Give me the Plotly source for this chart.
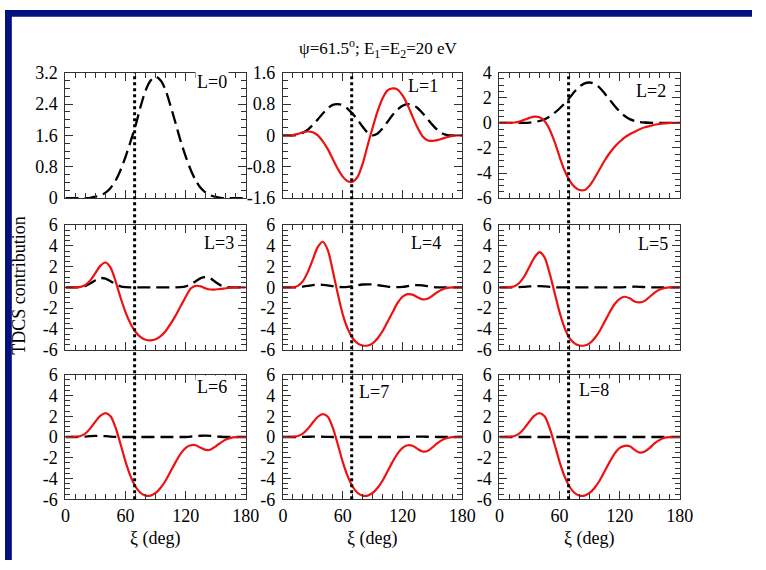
import plotly.graph_objects as go

W, H = 766, 570

xi = [0, 5, 10, 15, 20, 25, 30, 35, 40, 45, 50, 55, 60, 65, 70, 75, 80, 85, 90,
      95, 100, 105, 110, 115, 120, 125, 130, 135, 140, 145, 150, 155, 160, 165, 170, 175, 180]

xi_marker = 69  # vertical dotted line (deg)

# dashed (black) curves
dash_L0 = [0, 0, 0, 0, 0, 0.01, 0.04, 0.07, 0.14, 0.26, 0.45, 0.72, 1.06, 1.45, 1.86, 2.34, 2.75, 3.0, 3.1,
           3.0, 2.75, 2.34, 1.9, 1.45, 1.06, 0.72, 0.45, 0.26, 0.14, 0.07, 0.03, 0.01, 0, 0, 0, 0, 0]
dash_L1 = [0, 0, 0, 0.02, 0.07, 0.15, 0.27, 0.41, 0.56, 0.69, 0.78, 0.8, 0.77, 0.68, 0.55, 0.40, 0.22, 0.07, 0.0,
           0.05, 0.18, 0.35, 0.52, 0.66, 0.76, 0.8, 0.78, 0.7, 0.57, 0.42, 0.27, 0.14, 0.05, 0.01, 0, 0, 0]
dash_L2 = [0, 0, 0, 0, 0, 0, 0.02, 0.07, 0.15, 0.28, 0.5, 0.8, 1.15, 1.55, 2.0, 2.5, 2.9, 3.15, 3.22,
           3.1, 2.8, 2.35, 1.85, 1.35, 0.9, 0.55, 0.3, 0.15, 0.07, 0.03, 0.01, 0, 0, 0, 0, 0, 0]
dash_L3 = [0, 0, 0, 0.03, 0.15, 0.4, 0.7, 0.9, 0.85, 0.6, 0.3, 0.1, 0.02, 0, 0, 0, 0, 0, 0,
           0, 0, 0, 0, 0.02, 0.1, 0.3, 0.6, 0.9, 1.0, 0.85, 0.5, 0.2, 0.05, 0, 0, 0, 0]
dash_L4 = [0, 0, 0, 0.02, 0.08, 0.15, 0.22, 0.25, 0.25, 0.2, 0.12, 0.05, 0.03, 0.05, 0.12, 0.22, 0.28, 0.3, 0.28,
           0.22, 0.15, 0.08, 0.03, 0.02, 0.05, 0.12, 0.2, 0.22, 0.2, 0.12, 0.05, 0.01, 0, 0, 0, 0, 0]
dash_L5 = [0, 0, 0, 0.01, 0.03, 0.06, 0.1, 0.12, 0.12, 0.1, 0.06, 0.02, 0, 0, 0, 0, 0, 0, 0,
           0, 0, 0, 0, 0, 0, 0.02, 0.05, 0.07, 0.06, 0.03, 0, 0, 0, 0, 0, 0, 0]
dash_L6 = [0, 0, 0, 0.01, 0.04, 0.08, 0.1, 0.1, 0.08, 0.04, 0.01, 0, 0, 0, 0, 0, 0, 0, 0,
           0, 0, 0, 0, 0, 0, 0.03, 0.08, 0.12, 0.13, 0.1, 0.05, 0.02, 0, 0, 0, 0, 0]
dash_L7 = [0, 0, 0, 0, 0.01, 0.02, 0.03, 0.03, 0.02, 0.01, 0, 0, 0, 0, 0, 0, 0, 0, 0,
           0, 0, 0, 0, 0, 0, 0.01, 0.02, 0.03, 0.03, 0.02, 0.01, 0, 0, 0, 0, 0, 0]
dash_L8 = [0] * 37

# solid (red) curves
red_L1 = [0, 0, 0.01, 0.04, 0.08, 0.1, 0.08, 0.0, -0.15, -0.35, -0.6, -0.85, -1.05, -1.17, -1.18, -1.05, -0.72, -0.25, 0.2,
          0.62, 0.95, 1.15, 1.2, 1.17, 1.02, 0.78, 0.48, 0.2, -0.02, -0.12, -0.14, -0.12, -0.08, -0.04, -0.01, 0, 0]
red_L2 = [0, 0, 0, 0.03, 0.1, 0.25, 0.4, 0.5, 0.45, 0.15, -0.5, -1.5, -2.7, -3.8, -4.6, -5.1, -5.35, -5.35, -5.0,
          -4.4, -3.7, -3.0, -2.4, -1.9, -1.5, -1.15, -0.9, -0.7, -0.5, -0.35, -0.25, -0.15, -0.08, -0.04, -0.01, 0, 0]
red_L3 = [0, 0, 0, 0.05, 0.25, 0.7, 1.4, 2.1, 2.4, 1.9, 0.6, -1.0, -2.4, -3.5, -4.3, -4.8, -5.05, -5.1, -5.0,
          -4.7, -4.2, -3.5, -2.7, -1.8, -0.9, -0.1, 0.15, 0.1, -0.1, -0.2, -0.2, -0.15, -0.08, -0.03, 0, 0, 0]
red_L4 = [0, 0, 0.02, 0.15, 0.6, 1.5, 2.7, 3.9, 4.4, 3.6, 1.6, -0.6, -2.6, -4.0, -4.9, -5.4, -5.6, -5.6, -5.4,
          -4.9, -4.2, -3.3, -2.4, -1.5, -0.9, -0.65, -0.7, -0.95, -1.15, -1.1, -0.8, -0.45, -0.2, -0.05, 0, 0, 0]
red_L5 = [0, 0, 0.02, 0.12, 0.45, 1.1, 2.0, 2.9, 3.4, 2.9, 1.4, -0.5, -2.4, -3.9, -4.9, -5.4, -5.6, -5.6, -5.4,
          -4.9, -4.2, -3.3, -2.4, -1.6, -1.1, -0.9, -1.05, -1.35, -1.45, -1.3, -0.9, -0.5, -0.2, -0.06, 0, 0, 0]
red_L6 = [0, 0, 0.02, 0.1, 0.35, 0.85, 1.5, 2.05, 2.3, 2.0, 0.9, -0.7, -2.4, -3.8, -4.8, -5.4, -5.65, -5.65, -5.4,
          -4.9, -4.2, -3.3, -2.4, -1.6, -1.05, -0.8, -0.8, -1.05, -1.25, -1.2, -0.9, -0.55, -0.25, -0.08, -0.01, 0, 0]
red_L7 = [0, 0, 0.02, 0.1, 0.32, 0.8, 1.4, 1.95, 2.2, 1.95, 0.9, -0.7, -2.4, -3.8, -4.8, -5.4, -5.65, -5.65, -5.4,
          -4.9, -4.2, -3.3, -2.4, -1.6, -1.05, -0.8, -0.85, -1.15, -1.4, -1.35, -1.0, -0.6, -0.28, -0.1, -0.02, 0, 0]
red_L8 = [0, 0, 0.02, 0.1, 0.35, 0.85, 1.5, 2.05, 2.3, 2.0, 0.9, -0.7, -2.4, -3.8, -4.8, -5.4, -5.65, -5.65, -5.4,
          -4.9, -4.2, -3.3, -2.4, -1.6, -1.05, -0.85, -0.9, -1.25, -1.5, -1.4, -1.05, -0.6, -0.28, -0.08, -0.01, 0, 0]

panel_labels = ["L=0", "L=1", "L=2", "L=3", "L=4", "L=5", "L=6", "L=7", "L=8"]
dashed = [dash_L0, dash_L1, dash_L2, dash_L3, dash_L4, dash_L5, dash_L6, dash_L7, dash_L8]
solid = [None, red_L1, red_L2, red_L3, red_L4, red_L5, red_L6, red_L7, red_L8]

x_ticks = [0, 60, 120, 180]
x_minor_step = 10
y_ticks_L0 = [0, 0.8, 1.6, 2.4, 3.2]
y_ticks_L1 = [-1.6, -0.8, 0, 0.8, 1.6]
y_ticks_L2 = [-6, -4, -2, 0, 2, 4]
y_ticks_std = [-6, -4, -2, 0, 2, 4, 6]
y_ticks = [y_ticks_L0, y_ticks_L1, y_ticks_L2] + [y_ticks_std] * 6
y_minor = [0.2, 0.2, 0.5] + [0.5] * 6

title_text = "ψ=61.5<sup>o</sup>; E<sub>1</sub>=E<sub>2</sub>=20 eV"
y_title = "TDCS contribution"
x_title = "ξ (deg)"

# ---------------- layout geometry (pixels) ----------------
col_px = [(62, 247), (285, 469), (507, 692)]
row_px = [(65, 195), (223, 352), (378, 507)]
label_px = [(212, 75), (429, 79), (662, 84), (219, 241), (432, 241), (664, 243),
            (212, 391), (378, 396), (604, 394)]


def px(x):
    return x / W


def py(y):
    return 1 - y / H


def minor_vals(lo, hi, step):
    n = int(round((hi - lo) / step))
    return [round(lo + j * step, 6) for j in range(n + 1)]


FONT = "Liberation Serif, Times New Roman, Times, serif"
AXC = "#333333"

fig = go.Figure()
layout = dict(
    width=W, height=H, margin=dict(l=0, r=0, t=0, b=0),
    paper_bgcolor="white", plot_bgcolor="white", showlegend=False,
    font=dict(family=FONT, size=18, color="black"),
)

annotations = []
shapes = []

for i in range(9):
    r, c = divmod(i, 3)
    k = i + 1
    xa = "x" if k == 1 else f"x{k}"
    ya = "y" if k == 1 else f"y{k}"
    fig.add_trace(go.Scatter(x=xi, y=dashed[i], mode="lines", xaxis=xa, yaxis=ya,
                             line=dict(color="black", width=2.3, dash="13px,6px", shape="spline", smoothing=0.8)))
    if solid[i] is not None:
        fig.add_trace(go.Scatter(x=xi, y=solid[i], mode="lines", xaxis=xa, yaxis=ya,
                                 line=dict(color="#ee1111", width=2.2, shape="spline", smoothing=0.8)))
    common = dict(showline=True, linecolor=AXC, linewidth=1, mirror="allticks",
                  ticks="inside", ticklen=8, tickwidth=1, tickcolor=AXC,
                  showgrid=False, zeroline=False,
                  tickfont=dict(family=FONT, size=18, color="black"))
    xkey = "xaxis" if k == 1 else f"xaxis{k}"
    ykey = "yaxis" if k == 1 else f"yaxis{k}"
    layout[xkey] = dict(common, domain=[px(col_px[c][0]), px(col_px[c][1])],
                        anchor=ya, range=[0, 180], tickmode="array",
                        tickvals=x_ticks, ticktext=[str(v) for v in x_ticks],
                        showticklabels=(r == 2),
                        minor=dict(ticks="inside", ticklen=5, tickcolor=AXC, tickwidth=1, tickmode="array",
                                   tickvals=minor_vals(x_ticks[0], x_ticks[-1], x_minor_step), showgrid=False))
    yt = y_ticks[i]
    layout[ykey] = dict(common, domain=[py(row_px[r][1]), py(row_px[r][0])],
                        anchor=xa, range=[yt[0], yt[-1]], tickmode="array",
                        tickvals=yt, ticktext=["%g" % v for v in yt], ticklabelstandoff=3,
                        minor=dict(ticks="inside", ticklen=5, tickcolor=AXC, tickwidth=1, tickmode="array",
                                   tickvals=minor_vals(yt[0], yt[-1], y_minor[i]), showgrid=False))
    lx, ly = label_px[i]
    annotations.append(dict(text=panel_labels[i], x=px(lx), y=py(ly), xref="paper", yref="paper",
                            showarrow=False, font=dict(family=FONT, size=18, color="black"),
                            xanchor="center", yanchor="middle", bgcolor="white"))

# vertical dotted lines through each column
for c in range(3):
    xa = "x" if c == 0 else f"x{c + 1}"
    shapes.append(dict(type="line", xref=xa, yref="paper", x0=xi_marker, x1=xi_marker,
                       y0=py(row_px[2][1]), y1=py(row_px[0][0]),
                       line=dict(color="black", width=3, dash="dot")))
    annotations.append(dict(text=x_title, x=px((col_px[c][0] + col_px[c][1]) / 2), y=py(548),
                            xref="paper", yref="paper", showarrow=False,
                            font=dict(family=FONT, size=18, color="black"), xanchor="center", yanchor="middle"))

annotations.append(dict(text=title_text, x=px(383), y=py(40), xref="paper", yref="paper",
                        showarrow=False, font=dict(family=FONT, size=17, color="black"),
                        xanchor="center", yanchor="middle"))
annotations.append(dict(text=y_title, x=px(14), y=py(285), xref="paper", yref="paper",
                        showarrow=False, textangle=-90, font=dict(family=FONT, size=18, color="black"),
                        xanchor="center", yanchor="middle"))

# dark blue slide frame (left and top)
BLUE = "#03107f"
shapes.append(dict(type="rect", xref="paper", yref="paper", x0=0, x1=px(7), y0=0, y1=1,
                   fillcolor=BLUE, line=dict(width=0), layer="above"))
shapes.append(dict(type="rect", xref="paper", yref="paper", x0=0, x1=1, y0=py(7), y1=1,
                   fillcolor=BLUE, line=dict(width=0), layer="above"))

layout["annotations"] = annotations
layout["shapes"] = shapes
fig.update_layout(**layout)
fig.write_html("out.html",
               post_script="document.body.style.margin='0';document.body.style.overflow='hidden';")
